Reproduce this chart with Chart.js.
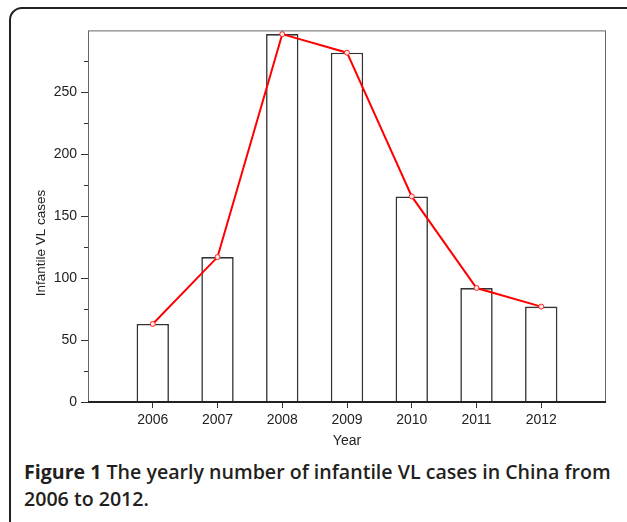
<!DOCTYPE html>
<html>
<head>
<meta charset="utf-8">
<script src="https://cdn.jsdelivr.net/npm/chart.js@4"></script>
<style>
  html, body { margin: 0; padding: 0; width: 627px; height: 522px; overflow: hidden; background: #fff; }
  #frame {
    position: absolute; left: 9px; top: 7px; width: 640px; height: 540px;
    border: 2px solid #222; border-radius: 13px; box-sizing: border-box;
  }
  #wrap { position: absolute; left: 20px; top: 18px; width: 600px; height: 437px; }
  #caption {
    position: absolute; left: 24px; top: 458px; width: 596px;
    font-family: "Open Sans", sans-serif; font-size: 19.6px; font-weight: 600;
    line-height: 27px; color: #231f20;
  }
  #caption b { font-weight: 700; }
</style>
</head>
<body>
<div id="frame"></div>
<div id="wrap"><canvas id="vlChart"></canvas></div>
<div id="caption"><b>Figure 1</b> The yearly number of infantile VL cases in China from 2006 to 2012.</div>
<script>
// first and last slots are empty padding years, as in the original plot
const years = ['2005', '2006', '2007', '2008', '2009', '2010', '2011', '2012', '2013'];
const cases = [null, 63, 117, 297, 282, 166, 92, 77, null];
const yTicks = [0, 50, 100, 150, 200, 250];
const yMinorTicks = [25, 75, 125, 175, 225, 275];
const yTitle = 'Infantile VL cases';
const xTitle = 'Year';

const tickFont = {family: '"Liberation Sans", Arial, sans-serif', size: 14};

const framePlugin = {
    id: 'framePlugin',
    afterDatasetsDraw(chart) {
        const {ctx, chartArea: a, scales} = chart;
        ctx.save();
        ctx.strokeStyle = '#666';
        ctx.lineWidth = 1;
        ctx.strokeRect(a.left + 0.5, a.top + 0.5, a.right - a.left - 1, a.bottom - a.top);
        // minor ticks on y
        ctx.strokeStyle = '#333';
        yMinorTicks.forEach(v => {
            const y = Math.round(scales.y.getPixelForValue(v)) + 0.5;
            ctx.beginPath();
            ctx.moveTo(a.left - 4, y);
            ctx.lineTo(a.left, y);
            ctx.stroke();
        });
        // heavier zero line
        ctx.strokeStyle = '#222';
        ctx.lineWidth = 2;
        ctx.beginPath();
        ctx.moveTo(a.left, a.bottom);
        ctx.lineTo(a.right, a.bottom);
        ctx.stroke();
        ctx.restore();
    },
    afterDraw(chart) {
        const {ctx} = chart;
        ctx.save();
        ctx.translate(21, 225);
        ctx.rotate(-Math.PI / 2);
        ctx.font = '13.5px "Liberation Sans", Arial, sans-serif';
        ctx.fillStyle = '#222';
        ctx.textAlign = 'center';
        ctx.textBaseline = 'middle';
        ctx.fillText(yTitle, 0, 0);
        ctx.restore();
    }
};

new Chart(document.getElementById('vlChart'), {
    type: 'bar',
    data: {
        labels: years,
        datasets: [
            {
                type: 'line',
                data: cases,
                borderColor: '#ff0000',
                borderWidth: 2,
                pointRadius: 2.5,
                pointBackgroundColor: '#ffe8e8',
                pointBorderColor: '#ff2020',
                pointBorderWidth: 1,
                tension: 0,
                order: 0
            },
            {
                data: cases,
                backgroundColor: '#ffffff',
                borderColor: '#333',
                borderWidth: 1.6,
                categoryPercentage: 1,
                barPercentage: 0.5,
                order: 1
            }
        ]
    },
    options: {
        responsive: true,
        maintainAspectRatio: false,
        animation: false,
        layout: {padding: {top: 8, right: 14, left: 0, bottom: 0}},
        plugins: {legend: {display: false}, tooltip: {enabled: false}},
        scales: {
            x: {
                offset: false,
                afterFit(scale) { scale.height = 53; },
                border: {display: false},
                grid: {
                    offset: false,
                    drawOnChartArea: false,
                    tickLength: 6,
                    tickColor: ctx => (ctx.index === 0 || ctx.index === years.length - 1) ? 'rgba(0,0,0,0)' : '#333'
                },
                ticks: {
                    font: tickFont, color: '#222', padding: 4, maxRotation: 0, autoSkip: false,
                    callback: (v, i) => (i === 0 || i === years.length - 1) ? '' : years[i]
                },
                title: {display: true, text: xTitle, font: tickFont, color: '#222', padding: {top: 0, bottom: 5}}
            },
            y: {
                min: 0,
                max: 300,
                afterFit(scale) { scale.width = 68; },
                afterBuildTicks(scale) { scale.ticks = yTicks.map(v => ({value: v})); },
                border: {display: false},
                grid: {drawOnChartArea: false, tickLength: 7, tickColor: '#333'},
                ticks: {font: tickFont, color: '#222', padding: 4}
            }
        }
    },
    plugins: [framePlugin]
});
</script>
</body>
</html>
